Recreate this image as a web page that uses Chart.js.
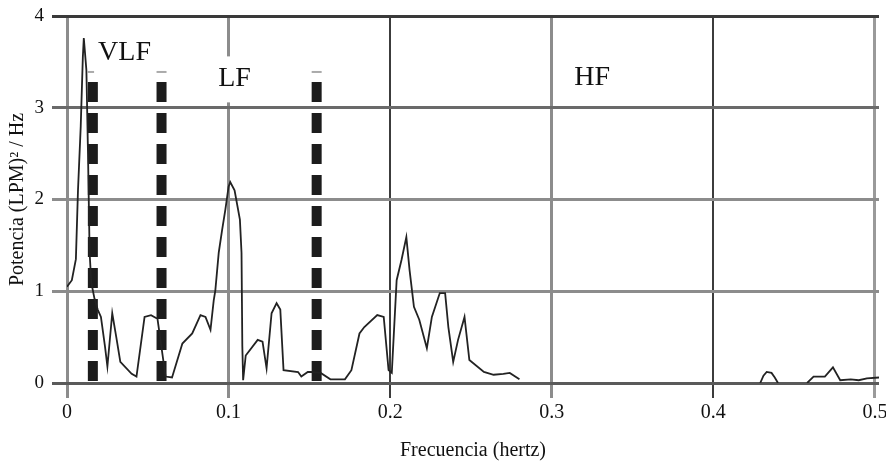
<!DOCTYPE html>
<html><head><meta charset="utf-8">
<script src="https://cdn.jsdelivr.net/npm/chart.js@4/dist/chart.umd.min.js"></script>
<style>html,body{margin:0;padding:0;background:#fff}canvas{display:block}</style>
</head><body>
<canvas id="c" width="886" height="464"></canvas>
<script>
const freq = [0.000,0.003,0.0055,0.0068,0.0085,0.0098,0.0104,0.012,0.013,0.014,0.015,0.017,0.019,0.021,0.0235,0.025,0.028,0.0305,0.033,0.040,0.043,0.048,0.052,0.056,0.061,0.065,0.0714,0.0775,0.0826,0.0857,0.0888,0.0908,0.0918,0.0939,0.096,0.098,0.100,0.101,0.1037,0.107,0.108,0.1085,0.109,0.1106,0.118,0.121,0.1235,0.1266,0.1297,0.132,0.134,0.143,0.145,0.149,0.151,0.157,0.163,0.172,0.176,0.181,0.184,0.192,0.196,0.199,0.201,0.204,0.207,0.210,0.212,0.2147,0.218,0.2227,0.2258,0.2307,0.234,0.236,0.239,0.242,0.246,0.249,0.258,0.264,0.270,0.274,0.280,0.285,0.428,0.429,0.431,0.433,0.436,0.438,0.440,0.450,0.458,0.462,0.469,0.474,0.4785,0.485,0.490,0.495,0.5025];
const power = [1.05,1.12,1.35,2.10,2.80,3.55,3.76,3.41,2.50,1.42,1.10,0.92,0.80,0.72,0.40,0.18,0.76,0.50,0.23,0.10,0.07,0.72,0.74,0.70,0.07,0.06,0.43,0.54,0.74,0.72,0.58,0.90,1.01,1.42,1.67,1.89,2.14,2.19,2.10,1.78,1.42,0.40,0.03,0.30,0.47,0.45,0.16,0.76,0.87,0.80,0.14,0.12,0.07,0.12,0.12,0.11,0.04,0.04,0.14,0.54,0.61,0.74,0.72,0.14,0.11,1.12,1.34,1.59,1.23,0.83,0.69,0.38,0.72,0.98,0.98,0.61,0.23,0.47,0.72,0.25,0.12,0.09,0.10,0.11,0.04,null,null,0.00,0.08,0.12,0.11,0.06,0.00,null,0.00,0.07,0.07,0.17,0.03,0.04,0.03,0.05,0.06];
const xTicks = [0,0.1,0.2,0.3,0.4,0.5];
const yTicks = [0,1,2,3,4];
const bandEdges = [0.016,0.0585,0.1545];
const bandTop = 3.39;
const bandLabels = ['VLF','LF','HF'];
const bandLabelX = [0.0356,0.1037,0.325];
const bandLabelY = [3.60,3.32,3.33];
const xTitle = 'Frecuencia (hertz)';
const yTitle = 'Potencia (LPM)\u00B2 / Hz';

const SERIF = "'Liberation Serif','Times New Roman',serif";

const xGridColor = {0:'#8c8c8c',0.1:'#8c8c8c',0.2:'#3c3c3c',0.3:'#8c8c8c',0.4:'#3c3c3c',0.5:'#9a9a9a'};
const xGridWidth = {0:3,0.1:3,0.2:2,0.3:3,0.4:2,0.5:3};
const yGridColor = {0:'#5a5a5a',1:'#8c8c8c',2:'#8c8c8c',3:'#6a6a6a',4:'#3a3a3a'};

const datasets = [{
  data: freq.map((x,i)=>({x:x,y:power[i]})),
  borderColor:'#222222', borderWidth:1.8, pointRadius:0, tension:0, spanGaps:false
}];
bandEdges.forEach(e=>{
  datasets.push({
    data:[{x:e,y:bandTop},{x:e,y:0}],
    borderColor:'#1c1c1c', borderWidth:10, borderDash:[20,11], borderDashOffset:21,
    pointRadius:[5,0], pointStyle:'line', pointBorderColor:'#aaaaaa', pointBorderWidth:2
  });
});

const labelsPlugin = {
  id:'bandLabels',
  beforeDraw(chart){
    const c = chart.ctx; c.save(); c.fillStyle='#fff'; c.fillRect(0,0,chart.width,chart.height); c.restore();
  },
  afterDatasetsDraw(chart){
    const c = chart.ctx, xs = chart.scales.x, ys = chart.scales.y;
    c.save();
    c.font = '28px ' + SERIF;
    c.textAlign='center'; c.textBaseline='middle';
    bandLabels.forEach((t,i)=>{
      const px = xs.getPixelForValue(bandLabelX[i]);
      const py = ys.getPixelForValue(bandLabelY[i]);
      const w = c.measureText(t).width;
      c.fillStyle='#fff';
      c.fillRect(px-w/2-4, py-22, w+8, 46);
      c.fillStyle='#111';
      c.fillText(t, px, py);
    });
    c.restore();
  }
};

new Chart(document.getElementById('c'), {
  type:'line',
  data:{datasets:datasets},
  options:{
    responsive:false, animation:false, devicePixelRatio:1,
    layout:{padding:{top:16,right:0,left:0,bottom:0}},
    plugins:{legend:{display:false}, tooltip:{enabled:false}},
    scales:{
      x:{
        type:'linear', min:0, max:0.5025,
        afterBuildTicks(s){ s.ticks = xTicks.map(v=>({value:v})); },
        afterFit(s){ s.height = 81; s.paddingLeft=0; s.paddingRight=0; },
        border:{display:false},
        grid:{
          color:ctx=>xGridColor[ctx.tick && ctx.tick.value] || '#8c8c8c',
          tickColor:ctx=>xGridColor[ctx.tick && ctx.tick.value] || '#8c8c8c',
          lineWidth:ctx=>xGridWidth[ctx.tick && ctx.tick.value] || 3,
          tickWidth:ctx=>xGridWidth[ctx.tick && ctx.tick.value] || 3,
          tickLength:15, drawTicks:true
        },
        ticks:{
          autoSkip:false, maxRotation:0, minRotation:0, padding:3, color:'#111',
          font:{family:SERIF, size:20},
          callback:v=> v===0 ? '0' : v.toFixed(1)
        },
        title:{display:true, text:xTitle, color:'#111', font:{family:SERIF, size:20}, padding:{top:0,bottom:1}}
      },
      y:{
        type:'linear', min:0, max:4,
        afterBuildTicks(s){ s.ticks = yTicks.map(v=>({value:v})); },
        afterFit(s){ s.width = 67; s.paddingTop=0; s.paddingBottom=0; },
        border:{display:false},
        grid:{
          color:ctx=>yGridColor[ctx.tick && ctx.tick.value] || '#8c8c8c',
          tickColor:ctx=>yGridColor[ctx.tick && ctx.tick.value] || '#8c8c8c',
          lineWidth:3, tickWidth:3, tickLength:15, drawTicks:true
        },
        ticks:{padding:8, color:'#111', font:{family:SERIF, size:19}},
        title:{display:true, text:yTitle, color:'#111', font:{family:SERIF, size:20}, padding:{top:6,bottom:0}}
      }
    }
  },
  plugins:[labelsPlugin]
});
</script>
</body></html>
